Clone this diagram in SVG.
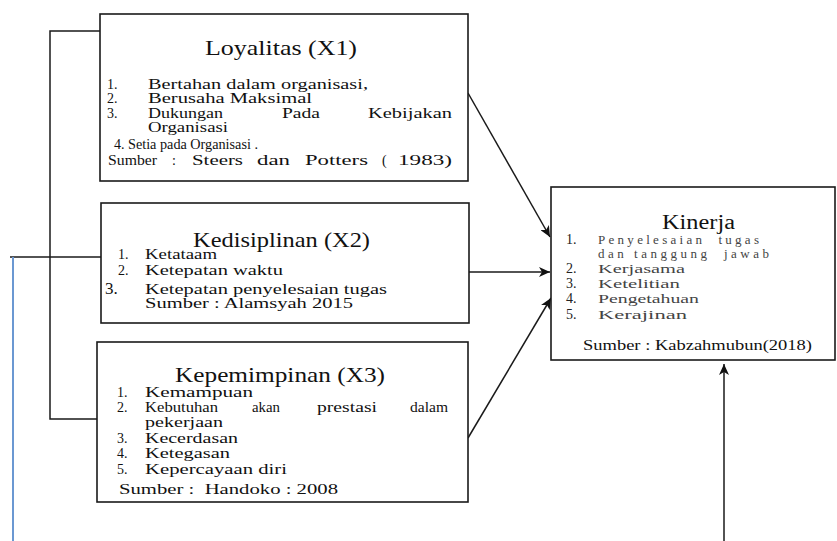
<svg xmlns="http://www.w3.org/2000/svg" width="837" height="541" viewBox="0 0 837 541">
<defs>
<marker id="ah" markerUnits="userSpaceOnUse" markerWidth="12" markerHeight="10" refX="11" refY="5" orient="auto">
<path d="M0,0 L11,5 L0,10 L3,5 Z" fill="#111"/>
</marker>
<style>
.box{fill:#fff;stroke:#1a1a1a;stroke-width:1.6}
.ln{fill:none;stroke:#1a1a1a;stroke-width:1.5}
.t{font-family:"Liberation Serif","Times New Roman",serif;fill:#111}
.ti{font-size:21px}
.it{font-size:14px}
.nm{font-size:14px}
.k{font-family:"Liberation Serif","Times New Roman",serif;font-size:13px;fill:#444}
.kn{font-family:"Liberation Serif","Times New Roman",serif;font-size:14px;fill:#222}
</style>
</defs>
<rect width="837" height="541" fill="#fff"/>

<g id="connectors">
<polyline class="ln" points="100,31 50,31 50,419 97,419"/>
<line class="ln" x1="10" y1="257" x2="101" y2="257"/>
<line x1="13" y1="257" x2="13" y2="541" stroke="#6b98d2" stroke-width="2"/>
<line class="ln" x1="468" y1="93" x2="550" y2="237" marker-end="url(#ah)"/>
<line class="ln" x1="469" y1="272" x2="550" y2="272" marker-end="url(#ah)"/>
<line class="ln" x1="468" y1="438" x2="551" y2="298" marker-end="url(#ah)"/>
<line class="ln" x1="724" y1="541" x2="724" y2="364" marker-end="url(#ah)"/>
</g>

<g id="loyalitas">
<rect class="box" x="100" y="14" width="368" height="167"/>
<text class="t ti" x="205" y="55" textLength="152" lengthAdjust="spacingAndGlyphs">Loyalitas (X1)</text>
<text class="t nm" x="107" y="89">1.</text>
<text class="t it" x="148" y="89" textLength="220" lengthAdjust="spacingAndGlyphs">Bertahan dalam organisasi,</text>
<text class="t nm" x="107" y="103">2.</text>
<text class="t it" x="148" y="103" textLength="164" lengthAdjust="spacingAndGlyphs">Berusaha Maksimal</text>
<text class="t nm" x="107" y="118">3.</text>
<text class="t it" x="148" y="118" textLength="75" lengthAdjust="spacingAndGlyphs">Dukungan</text>
<text class="t it" x="282" y="118" textLength="38" lengthAdjust="spacingAndGlyphs">Pada</text>
<text class="t it" x="368" y="118" textLength="84" lengthAdjust="spacingAndGlyphs">Kebijakan</text>
<text class="t it" x="148" y="132" textLength="80" lengthAdjust="spacingAndGlyphs">Organisasi</text>
<text class="t nm" x="114" y="149">4.</text>
<text class="t it" font-size="15" x="128" y="149" textLength="130" lengthAdjust="spacingAndGlyphs">Setia pada Organisasi .</text>
<text class="t it" x="108" y="165" textLength="49" lengthAdjust="spacingAndGlyphs">Sumber</text>
<text class="t it" x="172" y="165">:</text>
<text class="t it" x="192" y="165" textLength="51" lengthAdjust="spacingAndGlyphs">Steers</text>
<text class="t it" x="257" y="165" textLength="33" lengthAdjust="spacingAndGlyphs">dan</text>
<text class="t it" x="305" y="165" textLength="63" lengthAdjust="spacingAndGlyphs">Potters</text>
<text class="t it" x="382" y="165">(</text>
<text class="t it" x="398" y="165" textLength="54" lengthAdjust="spacingAndGlyphs">1983)</text>
</g>

<g id="kedisiplinan">
<rect class="box" x="101" y="203" width="368" height="120"/>
<text class="t ti" x="193" y="247" textLength="177" lengthAdjust="spacingAndGlyphs">Kedisiplinan (X2)</text>
<text class="t nm" x="118" y="259">1.</text>
<text class="t it" x="145" y="259" textLength="72" lengthAdjust="spacingAndGlyphs">Ketataam</text>
<text class="t nm" x="118" y="275">2.</text>
<text class="t it" x="145" y="275" textLength="138" lengthAdjust="spacingAndGlyphs">Ketepatan waktu</text>
<text class="t" font-size="17" x="105" y="294">3.</text>
<text class="t it" x="145" y="294" textLength="242" lengthAdjust="spacingAndGlyphs">Ketepatan penyelesaian tugas</text>
<text class="t it" x="145" y="308" textLength="208" lengthAdjust="spacingAndGlyphs">Sumber : Alamsyah 2015</text>
</g>

<g id="kepemimpinan">
<rect class="box" x="97" y="342" width="371" height="160"/>
<text class="t ti" x="175" y="382" textLength="210" lengthAdjust="spacingAndGlyphs">Kepemimpinan (X3)</text>
<text class="t nm" x="117" y="397">1.</text>
<text class="t it" x="145" y="397" textLength="108" lengthAdjust="spacingAndGlyphs">Kemampuan</text>
<text class="t nm" x="117" y="412">2.</text>
<text class="t it" x="145" y="412" textLength="73" lengthAdjust="spacingAndGlyphs">Kebutuhan</text>
<text class="t it" x="252" y="412" textLength="28" lengthAdjust="spacingAndGlyphs">akan</text>
<text class="t it" x="317" y="412" textLength="60" lengthAdjust="spacingAndGlyphs">prestasi</text>
<text class="t it" x="410" y="412" textLength="38" lengthAdjust="spacingAndGlyphs">dalam</text>
<text class="t it" x="145" y="427" textLength="78" lengthAdjust="spacingAndGlyphs">pekerjaan</text>
<text class="t nm" x="117" y="443">3.</text>
<text class="t it" x="145" y="443" textLength="93" lengthAdjust="spacingAndGlyphs">Kecerdasan</text>
<text class="t nm" x="117" y="458">4.</text>
<text class="t it" x="145" y="458" textLength="85" lengthAdjust="spacingAndGlyphs">Ketegasan</text>
<text class="t nm" x="117" y="474">5.</text>
<text class="t it" x="145" y="474" textLength="142" lengthAdjust="spacingAndGlyphs">Kepercayaan diri</text>
<text class="t it" x="119" y="494" textLength="219" lengthAdjust="spacingAndGlyphs" xml:space="preserve">Sumber :  Handoko : 2008</text>
</g>

<g id="kinerja">
<rect class="box" x="551" y="187" width="284" height="173"/>
<text class="t" font-size="20" x="662" y="229" textLength="73" lengthAdjust="spacingAndGlyphs">Kinerja</text>
<text class="kn" x="566" y="244">1.</text>
<text class="k" x="598" y="244" textLength="161" lengthAdjust="spacing" xml:space="preserve">Penyelesaian  tugas</text>
<text class="k" x="598" y="258" textLength="171" lengthAdjust="spacing" xml:space="preserve">dan tanggung  jawab</text>
<text class="kn" x="566" y="273">2.</text>
<text class="k" x="598" y="273" textLength="87" lengthAdjust="spacingAndGlyphs">Kerjasama</text>
<text class="kn" x="566" y="288">3.</text>
<text class="k" x="598" y="288" textLength="82" lengthAdjust="spacingAndGlyphs">Ketelitian</text>
<text class="kn" x="566" y="303">4.</text>
<text class="k" x="598" y="303" textLength="101" lengthAdjust="spacingAndGlyphs">Pengetahuan</text>
<text class="kn" x="566" y="319">5.</text>
<text class="k" x="598" y="319" textLength="89" lengthAdjust="spacingAndGlyphs">Kerajinan</text>
<text class="t" font-size="14" fill="#333" x="583" y="350" textLength="229" lengthAdjust="spacingAndGlyphs">Sumber : Kabzahmubun(2018)</text>
</g>
</svg>
